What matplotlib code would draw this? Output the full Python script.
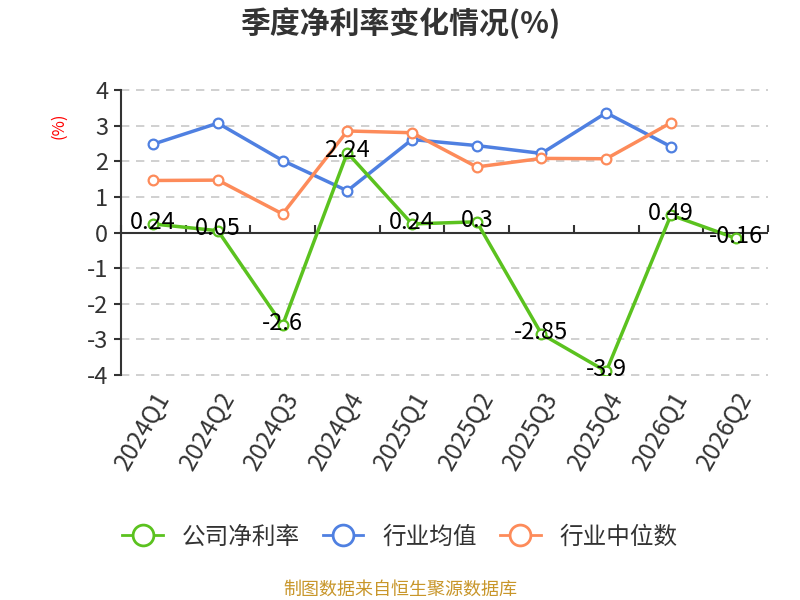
import numpy as np
import matplotlib.pyplot as plt
from matplotlib.lines import Line2D
from matplotlib.ticker import FuncFormatter

plt.rcParams['font.family'] = ['Noto Sans CJK SC', 'DejaVu Sans']

# Data
quarters = ["2024Q1", "2024Q2", "2024Q3", "2024Q4", "2025Q1",
            "2025Q2", "2025Q3", "2025Q4", "2026Q1", "2026Q2"]
company = [0.24, 0.05, -2.6, 2.24, 0.24, 0.3, -2.85, -3.9, 0.49, -0.16]
industry_avg = [2.48, 3.07, 2.02, 1.17, 2.61, 2.44, 2.22, 3.36, 2.41]
industry_median = [1.46, 1.47, 0.52, 2.85, 2.80, 1.84, 2.08, 2.07, 3.08]

green = "#5bc21f"
blue = "#4f80e1"
orange = "#fd8b5a"

fig = plt.figure(figsize=(8, 6), dpi=100)
ax = fig.add_axes([0.151, 0.375, 0.809, 0.475])

x = np.arange(len(quarters))

# Dashed gridlines
for v in range(-4, 5):
    if v != 0:
        ax.axhline(v, color="#c8c8c8", linestyle=(0, (5, 4)), linewidth=1.2,
                   zorder=0, clip_on=False)

# zero axis line with ticks at the band edges
ax.axhline(0, color="#333333", linewidth=1.5, zorder=2)
sec = ax.secondary_xaxis(0.5)
sec.set_xticks(np.arange(-0.5, len(quarters), 1.0))
sec.set_xticklabels([])
sec.tick_params(axis="x", direction="out", length=5, width=1.5, color="#333333")
for s in sec.spines.values():
    s.set_visible(False)

line_kw = dict(linewidth=2.5, marker="o", markersize=7, markerfacecolor="white",
               markeredgewidth=1.6, zorder=3)
ax.plot(x[:len(industry_avg)], industry_avg, color=blue, **line_kw)
ax.plot(x[:len(industry_median)], industry_median, color=orange, **line_kw)
ax.plot(x, company, color=green, **line_kw)

for xi, v in zip(x, company):
    ax.text(xi, v + 0.05, f"{v:g}", ha="center", va="center", fontsize=17,
            color="#000000", zorder=5)

ax.set_xlim(-0.5, len(quarters) - 0.5)
ax.set_ylim(-4, 4)
ax.set_yticks(range(-4, 5))
ax.yaxis.set_major_formatter(FuncFormatter(lambda v, p: f"{v:g}"))
ax.set_xticks(x)
ax.set_xticklabels(quarters, rotation=60, ha="right", va="top",
                   rotation_mode="anchor", fontsize=17.5, color="#333333")
ax.tick_params(axis="x", length=0, pad=9)
ax.tick_params(axis="y", direction="out", length=5, width=1.5, color="#333333",
               labelsize=17, labelcolor="#333333", pad=4)

for s in ["top", "right", "bottom"]:
    ax.spines[s].set_visible(False)
ax.spines["left"].set_color("#333333")
ax.spines["left"].set_linewidth(1.5)

fig.text(0.5, 0.962, "季度净利率变化情况(%)", ha="center", va="center",
         fontsize=21.5, fontweight="bold", color="#333333")
fig.text(0.073, 0.79, "(%)", ha="center", va="center", rotation=90,
         fontsize=12, color="#ff0000")

handles = [
    Line2D([0], [0], color=c, linewidth=2, marker="o", markersize=15,
           markerfacecolor="white", markeredgewidth=2)
    for c in (green, blue, orange)
]
fig.legend(handles, ["公司净利率", "行业均值", "行业中位数"], loc="center",
           bbox_to_anchor=(0.5, 0.105), ncol=3, frameon=False, fontsize=17,
           handlelength=1.7, columnspacing=1.0, handletextpad=0.8,
           labelcolor="#333333")

fig.text(0.5, 0.018, "制图数据来自恒生聚源数据库", ha="center", va="center",
         fontsize=13, color="#c8962a")

fig.savefig("out.png", dpi=100)
